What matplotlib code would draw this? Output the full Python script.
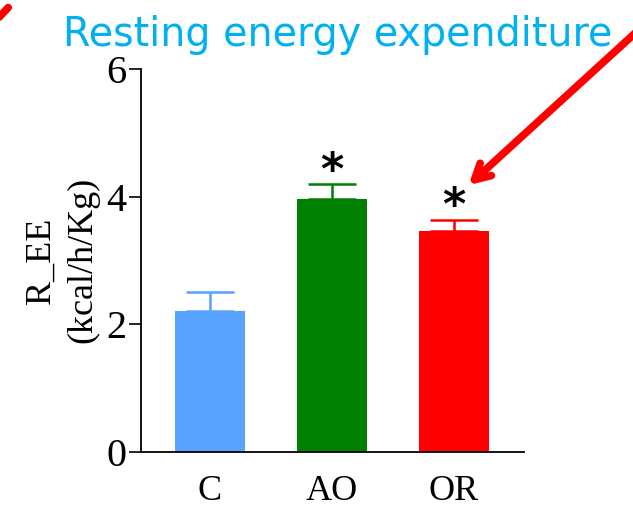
import matplotlib
matplotlib.use("Agg")
import matplotlib.pyplot as plt
import numpy as np

# данные графика
groups = ["C", "AO", "OR"]
means = [2.21, 3.96, 3.46]
errors = [0.29, 0.23, 0.18]
colors = ["#58a3ff", "#007f00", "#ff0000"]
significant = [False, True, True]

fig = plt.figure(figsize=(6.33, 5.07), dpi=100)
ax = fig.add_axes([0.2227, 0.1091, 0.6051, 0.7548])

x = np.arange(len(groups))
ax.bar(x, means, width=0.566, color=colors, zorder=2)
for xi, m, e, c in zip(x, means, errors, colors):
    ax.errorbar(xi, m, yerr=[[0], [e]], color=c, capsize=17, elinewidth=1.8,
                capthick=1.8, zorder=3)

# звёздочки значимости
for xi, m, e, s in zip(x, means, errors, significant):
    if s:
        ax.text(xi, m + e + 0.2, "*", ha="center", va="center",
                fontsize=32, fontweight="bold", color="black")

ax.set_xlim(-0.566, 2.574)
ax.set_ylim(0, 6)
ax.set_yticks([0, 2, 4, 6])
ax.set_xticks(x)
ax.set_xticklabels(groups)

serif = "Liberation Serif"
for lbl in ax.get_yticklabels():
    lbl.set_fontfamily(serif)
    lbl.set_fontsize(29)
for lbl in ax.get_xticklabels():
    lbl.set_fontfamily(serif)
    lbl.set_fontsize(26)

ax.tick_params(axis="y", length=8.5, width=1.2, pad=2)
ax.tick_params(axis="x", length=0, pad=17)
ax.spines["top"].set_visible(False)
ax.spines["right"].set_visible(False)
ax.spines["left"].set_linewidth(1.3)
ax.spines["bottom"].set_linewidth(1.3)

ax.set_ylabel("R_EE\n(kcal/h/Kg)", fontfamily=serif, fontsize=26,
              linespacing=1.35, labelpad=5)

fig.text(0.533, 0.93, "Resting energy expenditure", ha="center", va="center",
         fontsize=28.5, color="#00b0f0")

# красная стрелка на OR
ax.annotate("", xy=(2.12, 4.18), xycoords="data",
            xytext=(1.03, 0.965), textcoords="figure fraction",
            arrowprops=dict(arrowstyle="->, head_length=1.1, head_width=0.6",
                            color="#ff0000", lw=5.5, capstyle="round",
                            joinstyle="round", shrinkA=0, shrinkB=0),
            annotation_clip=False)

# кусочек второй стрелки в левом углу
fig.add_artist(plt.Line2D([0.013, -0.01], [0.985, 0.955],
                          transform=fig.transFigure, color="#ff0000", lw=5.5,
                          solid_capstyle="round"))

fig.savefig("out.png", dpi=100)
